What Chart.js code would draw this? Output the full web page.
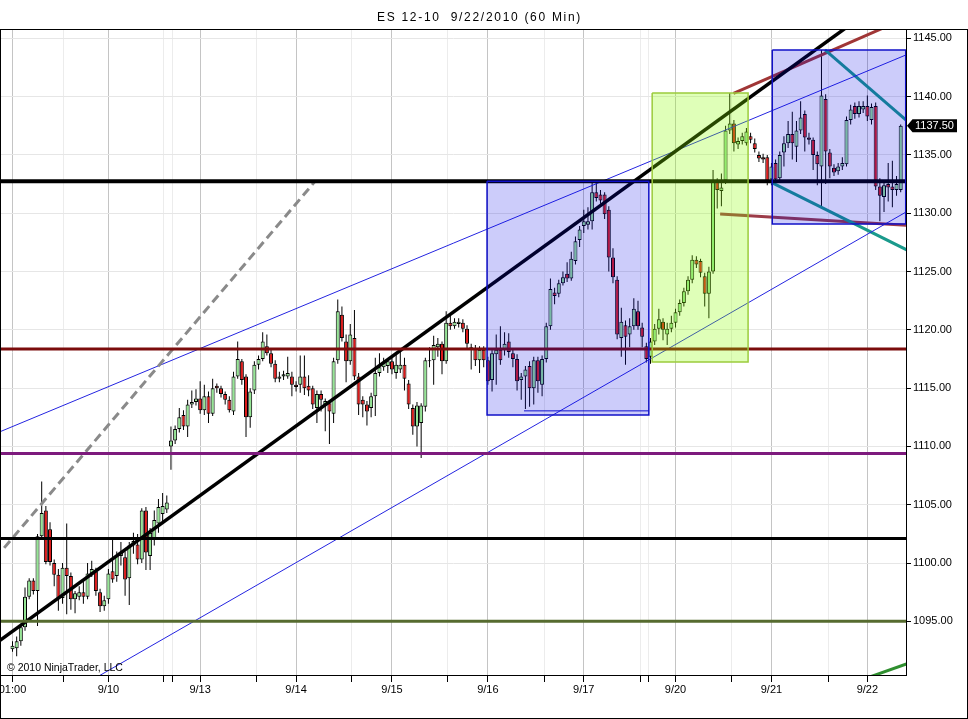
<!DOCTYPE html>
<html>
<head>
<meta charset="utf-8">
<title>ES 12-10 60 Min</title>
<script src="https://cdn.jsdelivr.net/npm/chart.js@4.4.1/dist/chart.umd.min.js"></script>
<style>
  html, body { margin: 0; padding: 0; background: #fff; }
  canvas { display: block; }
</style>
</head>
<body>
<canvas id="esChart" width="968" height="719"></canvas>
<script>
// 60 min bars, 9/9 01:00 -> 9/22, one entry per bar
const opens = [
  1092.6, 1092.7, 1093.3, 1094.5, 1097.1, 1098.5, 1097.6, 1102.3, 1104.5, 1102.9,
  1100.0, 1099.0, 1097.0, 1099.6, 1098.9, 1096.9, 1097.1, 1097.5, 1097.1, 1099.1,
  1099.3, 1097.5, 1096.3, 1096.9, 1099.3, 1098.9, 1100.6, 1100.5, 1098.7, 1101.5,
  1101.6, 1100.3, 1104.5, 1100.6, 1102.1, 1103.4, 1104.2, 1104.6,
  1110.0, 1110.5, 1111.5, 1112.7, 1111.7, 1113.6, 1113.8, 1114.1, 1113.1, 1114.3,
  1112.8, 1115.2, 1115.0, 1114.5, 1114.0, 1113.0, 1116.0, 1117.3, 1116.0, 1112.5,
  1114.8, 1117.0, 1117.5, 1118.6, 1118.0, 1117.1, 1115.8, 1116.0, 1116.0, 1116.0,
  1115.3, 1115.3, 1116.0, 1115.2, 1115.0, 1113.3, 1114.5, 1113.6, 1113.7, 1112.8,
  1117.4, 1121.3, 1119.0, 1117.3, 1119.3, 1116.0, 1114.0, 1113.6, 1113.3, 1114.3,
  1116.3, 1116.8, 1116.9, 1117.3, 1116.3, 1116.6, 1117.0, 1115.4, 1113.3, 1111.7,
  1112.0, 1113.4, 1117.3, 1117.4, 1118.5, 1118.8, 1117.3, 1120.6, 1120.3, 1120.5,
  1120.6, 1120.1, 1118.3, 1118.4, 1117.4, 1118.3, 1117.4, 1115.7, 1117.9, 1118.3,
  1118.3, 1119.0, 1118.0, 1117.5, 1115.7, 1116.0, 1116.9, 1115.0, 1117.4, 1115.3,
  1117.5, 1120.3, 1123.2, 1123.1, 1124.0, 1124.8, 1124.4, 1125.9, 1127.7, 1128.9,
  1129.0, 1129.3, 1131.8, 1131.6, 1131.6, 1130.3, 1126.2, 1124.3, 1119.3, 1120.4,
  1119.6, 1120.3, 1121.6, 1120.2, 1118.6, 1117.7, 1119.0, 1120.1, 1120.7, 1119.6,
  1120.1, 1120.6, 1121.5, 1122.3, 1123.3, 1124.3, 1126.0, 1125.9, 1124.6, 1123.1,
  1125.0, 1132.7, 1131.9, 1132.8, 1137.1, 1137.7, 1135.9, 1136.2, 1136.0, 1136.6,
  1136.0, 1135.0, 1134.8, 1134.8, 1132.9, 1134.3, 1133.0, 1135.2, 1136.0, 1136.8,
  1135.7, 1137.1, 1138.5, 1136.5, 1136.3, 1135.0, 1134.0, 1139.8, 1135.2, 1133.9,
  1133.6, 1134.0, 1134.2, 1138.0, 1139.2, 1138.5, 1138.9, 1139.2, 1138.0, 1139.2,
  1132.3, 1131.4, 1132.5, 1132.3, 1132.0, 1132.0
];
const highs = [
  1093.3, 1093.7, 1094.8, 1097.9, 1098.7, 1098.7, 1102.5, 1107.0, 1104.9, 1103.5,
  1100.3, 1099.5, 1100.0, 1103.4, 1099.2, 1097.6, 1098.0, 1098.6, 1100.0, 1100.2,
  1099.6, 1097.8, 1097.2, 1099.5, 1102.2, 1101.0, 1101.8, 1101.0, 1101.8, 1102.6,
  1102.5, 1104.7, 1104.8, 1103.0, 1104.5, 1105.5, 1106.0, 1105.8,
  1111.7, 1111.8, 1113.3, 1113.1, 1114.0, 1114.8, 1114.9, 1115.6, 1115.3, 1114.7,
  1115.8, 1115.4, 1115.2, 1114.7, 1114.3, 1116.4, 1119.0, 1117.5, 1116.2, 1115.0,
  1117.3, 1117.8, 1119.8, 1119.6, 1118.3, 1117.4, 1116.4, 1116.5, 1117.7, 1116.4,
  1115.6, 1117.8, 1117.8, 1116.1, 1115.2, 1114.8, 1114.8, 1114.1, 1113.9, 1117.6,
  1122.6, 1122.0, 1119.6, 1120.5, 1121.7, 1116.3, 1114.3, 1113.9, 1114.6, 1117.6,
  1118.0, 1117.6, 1117.5, 1117.6, 1118.0, 1118.3, 1117.6, 1115.7, 1113.6, 1113.8,
  1113.7, 1117.6, 1118.5, 1119.5, 1119.3, 1119.0, 1121.6, 1121.3, 1121.0, 1121.0,
  1120.9, 1120.4, 1118.8, 1118.7, 1118.6, 1118.6, 1117.7, 1118.3, 1119.6, 1120.3,
  1119.8, 1119.7, 1118.4, 1117.9, 1116.3, 1116.9, 1117.3, 1117.7, 1117.7, 1117.8,
  1120.6, 1124.4, 1123.6, 1124.3, 1125.0, 1125.8, 1126.7, 1128.0, 1128.9, 1130.3,
  1130.5, 1132.75, 1132.7, 1132.0, 1131.8, 1130.6, 1127.0, 1124.6, 1121.9, 1120.8,
  1121.0, 1122.7, 1122.5, 1120.6, 1118.9, 1119.3, 1120.5, 1121.8, 1121.0, 1120.6,
  1121.2, 1121.8, 1122.6, 1123.6, 1124.6, 1126.4, 1126.3, 1126.1, 1124.9, 1125.4,
  1133.7, 1133.0, 1133.4, 1137.5, 1140.3, 1138.0, 1136.5, 1136.9, 1137.3, 1136.9,
  1136.4, 1135.3, 1135.1, 1135.0, 1134.3, 1134.6, 1135.3, 1136.6, 1137.9, 1138.7,
  1137.9, 1139.6, 1138.8, 1136.9, 1136.5, 1135.3, 1144.0, 1140.2, 1135.5, 1134.2,
  1134.3, 1134.8, 1138.3, 1139.3, 1139.5, 1139.6, 1139.6, 1140.1, 1139.4, 1139.5,
  1133.0, 1132.7, 1134.3, 1134.5, 1133.2, 1137.6
];
const lows = [
  1092.4, 1092.0, 1092.9, 1094.2, 1096.9, 1097.3, 1094.6, 1102.0, 1099.9, 1099.8,
  1098.0, 1095.9, 1096.5, 1095.6, 1096.0, 1095.7, 1096.8, 1096.5, 1096.9, 1098.8,
  1097.2, 1095.8, 1095.9, 1096.5, 1098.3, 1098.4, 1099.8, 1097.2, 1096.4, 1100.8,
  1099.9, 1100.0, 1099.4, 1099.4, 1101.5, 1102.6, 1103.6, 1104.3,
  1108.0, 1110.2, 1111.2, 1111.4, 1110.8, 1113.3, 1113.5, 1112.8, 1112.7, 1112.0,
  1112.6, 1114.6, 1114.2, 1113.6, 1112.9, 1112.7, 1115.8, 1115.3, 1110.8, 1111.6,
  1114.5, 1116.6, 1117.3, 1117.8, 1116.8, 1115.5, 1115.5, 1115.7, 1115.8, 1114.3,
  1114.7, 1114.6, 1114.4, 1114.3, 1113.2, 1112.0, 1113.0, 1111.3, 1110.2, 1112.0,
  1117.1, 1119.0, 1115.5, 1117.0, 1115.7, 1112.7, 1112.5, 1111.8, 1112.5, 1112.6,
  1116.0, 1116.5, 1116.3, 1116.2, 1115.8, 1116.3, 1114.8, 1113.2, 1111.0, 1110.0,
  1109.0, 1113.0, 1116.8, 1115.3, 1117.7, 1116.2, 1117.1, 1120.0, 1120.1, 1120.2,
  1119.8, 1118.3, 1116.6, 1116.9, 1116.3, 1116.8, 1115.3, 1114.7, 1115.3, 1117.0,
  1117.8, 1117.6, 1116.8, 1114.8, 1114.0, 1113.2, 1113.4, 1113.6, 1114.6, 1114.3,
  1117.2, 1120.0, 1122.2, 1122.8, 1123.8, 1124.1, 1124.2, 1125.6, 1127.1, 1128.3,
  1128.6, 1128.6, 1131.0, 1130.8, 1129.5, 1125.0, 1124.0, 1119.2, 1117.7, 1117.0,
  1118.5, 1120.0, 1120.0, 1118.5, 1117.2, 1117.1, 1118.7, 1119.6, 1119.1, 1118.7,
  1119.8, 1120.2, 1121.2, 1122.0, 1123.0, 1124.0, 1125.3, 1124.5, 1122.0, 1121.0,
  1124.8, 1130.4, 1130.6, 1132.5, 1136.8, 1135.3, 1135.5, 1135.9, 1135.8, 1136.0,
  1135.2, 1134.4, 1134.3, 1132.4, 1132.4, 1132.6, 1132.7, 1134.0, 1135.6, 1134.6,
  1134.4, 1136.8, 1135.3, 1135.9, 1133.7, 1132.4, 1130.4, 1132.5, 1133.0, 1133.2,
  1133.3, 1133.7, 1134.0, 1137.6, 1138.1, 1138.2, 1138.6, 1137.9, 1137.6, 1132.0,
  1129.3, 1130.1, 1131.0, 1130.5, 1131.5, 1131.8
];
const closes = [
  1092.9, 1093.3, 1094.5, 1097.1, 1098.5, 1097.6, 1102.3, 1104.3, 1100.1, 1100.1,
  1099.0, 1097.0, 1099.6, 1098.9, 1096.9, 1097.4, 1097.5, 1097.1, 1099.1, 1099.5,
  1097.6, 1096.3, 1096.8, 1099.1, 1098.6, 1100.6, 1100.9, 1098.6, 1101.5, 1101.9,
  1100.3, 1104.5, 1100.9, 1102.6, 1103.7, 1104.8, 1104.9, 1105.2,
  1110.5, 1111.5, 1112.5, 1111.7, 1113.6, 1113.8, 1114.1, 1113.1, 1114.3, 1112.8,
  1115.0, 1115.0, 1114.5, 1114.0, 1113.1, 1116.0, 1117.5, 1115.7, 1112.5, 1114.7,
  1117.0, 1117.5, 1119.0, 1118.0, 1117.1, 1115.8, 1116.0, 1116.2, 1116.3, 1115.3,
  1115.1, 1116.0, 1115.0, 1114.8, 1113.6, 1114.5, 1114.0, 1113.9, 1113.0, 1117.3,
  1121.6, 1119.3, 1117.3, 1119.6, 1116.0, 1113.6, 1113.6, 1113.0, 1114.3, 1116.3,
  1116.8, 1117.2, 1117.3, 1116.6, 1117.0, 1117.0, 1115.8, 1113.6, 1111.7, 1113.5,
  1113.5, 1117.4, 1117.4, 1118.7, 1118.8, 1117.3, 1120.6, 1120.3, 1120.7, 1120.7,
  1120.1, 1118.8, 1118.5, 1117.4, 1118.3, 1117.4, 1115.6, 1118.0, 1118.3, 1117.4,
  1118.8, 1118.1, 1117.5, 1115.6, 1116.0, 1116.6, 1115.0, 1117.4, 1115.6, 1117.5,
  1120.3, 1123.5, 1122.9, 1124.0, 1124.5, 1124.4, 1126.1, 1127.6, 1128.6, 1129.3,
  1129.3, 1131.8, 1131.3, 1131.1, 1129.9, 1126.2, 1124.5, 1119.6, 1120.7, 1119.4,
  1120.3, 1121.8, 1120.3, 1119.4, 1117.5, 1119.0, 1120.1, 1120.9, 1120.0, 1120.1,
  1120.6, 1121.5, 1122.3, 1123.3, 1124.3, 1126.0, 1125.6, 1124.9, 1123.1, 1125.0,
  1132.7, 1132.0, 1132.2, 1137.1, 1137.7, 1136.0, 1136.2, 1136.6, 1137.0, 1136.3,
  1135.5, 1134.7, 1134.6, 1132.7, 1134.0, 1132.9, 1135.0, 1136.0, 1136.8, 1136.0,
  1137.1, 1138.2, 1136.5, 1136.3, 1135.0, 1134.2, 1140.1, 1135.3, 1134.0, 1133.5,
  1134.0, 1134.3, 1138.0, 1138.9, 1138.5, 1139.2, 1139.2, 1138.3, 1139.1, 1132.3,
  1131.5, 1132.4, 1132.2, 1132.0, 1132.5, 1137.5
];

// time axis: bar index of each tick and its label
const tickIdx  = [0, 12.35, 23, 36.33, 38.25, 45, 58.6, 68, 81.4, 91, 104.4, 114, 127.5, 137, 150.5, 152.4, 159, 172.5, 182, 195.6, 205];
const tickText = ['01:00', '', '9/10', '', '', '9/13', '', '9/14', '', '9/15', '', '9/16', '', '9/17', '', '', '9/20', '', '9/21', '', '9/22'];
const priceTicks = [1095, 1100, 1105, 1110, 1115, 1120, 1125, 1130, 1135, 1140, 1145];

// drawn horizontal levels
const levels = [1132.75, 1118.35, 1109.4, 1102.1, 1095.0];

// trend lines: [barStart, priceStart, barEnd, priceEnd]
const trendBlack  = [-3.0, 1093.37, 200.84, 1146.15];
const trendDashed = [-2.0, 1101.3, 72.6, 1132.75];
const chanUpper   = [-3.0, 1111.26, 215, 1143.68];
const chanLower   = [20, 1090.17, 215, 1130.25];
const tealUpper   = [194.84, 1144.0, 215, 1137.77];
const tealLower   = [182.1, 1132.63, 215, 1126.76];
const brownUpper  = [172.9, 1140.28, 215, 1146.85];
const brownLower  = [169.7, 1129.93, 215, 1128.95];
const greenLow    = [205, 1090.16, 215, 1091.42];

// shaded boxes (bar range, price range)
const boxLeft   = [113.8, 153.4, 182.2];
const boxRight  = [152.6, 176.4, 214.2];
const boxTop    = [1132.75, 1140.3, 1144.0];
const boxBottom = [1112.7, 1117.25, 1129.07];

const xMin = -2.758, xMax = 214.27;

const bars = closes.map((c, i) => i);
const upColor = '#95e695';
const downColor = '#dc1a1a';

function seg(s, color, width, dash) {
  return {
    type: 'line',
    data: [{x: s[0], y: s[1]}, {x: s[2], y: s[3]}],
    borderColor: color,
    borderWidth: width,
    borderDash: dash || [],
    pointRadius: 0,
    fill: false,
    tension: 0,
    order: 1
  };
}

function box(k, fillColor, edgeColor) {
  const l = boxLeft[k], r = boxRight[k], t = boxTop[k], b = boxBottom[k];
  return {
    type: 'line',
    data: [{x: l, y: t}, {x: r, y: t}, {x: r, y: b}, {x: l, y: b}, {x: l, y: t}],
    borderColor: edgeColor,
    backgroundColor: fillColor,
    borderWidth: 1.5,
    pointRadius: 0,
    fill: 'shape',
    tension: 0,
    order: 0
  };
}

const levelColors = ['#000000', '#7b0c0c', '#7d1a7d', '#000000', '#566b2f'];
const levelWidths = [4, 3, 3, 3, 3];

const datasets = [];
datasets.push(box(0, 'rgba(0,0,230,0.2)', '#1010c8'));
datasets.push(box(1, 'rgba(140,255,0,0.28)', '#9ccc3c'));
datasets.push(box(2, 'rgba(0,0,230,0.2)', '#1010c8'));
datasets.push(seg([boxLeft[0] + 8.86, boxBottom[0] + 0.35, boxRight[0], boxBottom[0] + 0.35], '#1010c8', 1));

levels.forEach((p, k) => datasets.push(seg([xMin - 1, p, xMax + 1, p], levelColors[k], levelWidths[k])));
datasets.push(seg(trendBlack, '#000000', 3.5));
datasets.push(seg(trendDashed, '#8a8a8a', 3, [9, 5]));
datasets.push(seg(chanUpper, '#2424e0', 1));
datasets.push(seg(chanLower, '#2424e0', 1));
datasets.push(seg(tealUpper, '#1a9a8c', 3));
datasets.push(seg(tealLower, '#1a9a8c', 3));
datasets.push(seg(brownUpper, '#a03636', 3));
datasets.push(seg(brownLower, '#9c3b48', 3));
datasets.push(seg(greenLow, '#2f8f2f', 3));

// candle bodies
datasets.push({
  type: 'bar',
  data: bars.map(i => ({x: i, y: [opens[i], closes[i]]})),
  backgroundColor: bars.map(i => closes[i] >= opens[i] ? upColor : downColor),
  borderColor: '#000',
  borderWidth: 1,
  borderSkipped: false,
  barThickness: 4,
  inflateAmount: 0,
  grouped: false,
  order: 2
});
// wicks
datasets.push({
  type: 'bar',
  data: bars.map(i => ({x: i, y: [lows[i], highs[i]]})),
  backgroundColor: '#000',
  barThickness: 1,
  inflateAmount: 0,
  grouped: false,
  order: 3
});

const frame = {
  id: 'frame',
  afterDraw(chart) {
    const {ctx, chartArea: a, scales: {y}} = chart;
    ctx.save();
    ctx.strokeStyle = '#000';
    ctx.lineWidth = 1;
    ctx.strokeRect(0.5, 29.5, chart.width - 1, chart.height - 30);

    ctx.fillStyle = '#000';
    ctx.font = '12px Arial';
    ctx.textBaseline = 'alphabetic';
    if ('letterSpacing' in ctx) ctx.letterSpacing = '1.7px';
    ctx.fillText('ES 12-10  9/22/2010 (60 Min)', 377, 21);
    if ('letterSpacing' in ctx) ctx.letterSpacing = '0px';

    ctx.font = '10.5px Arial';
    ctx.fillText('\u00a9 2010 NinjaTrader, LLC', 7, 671);

    // last price marker
    const last = closes[closes.length - 1];
    const py = y.getPixelForValue(last);
    ctx.beginPath();
    ctx.moveTo(a.right + 1, py);
    ctx.lineTo(a.right + 6.5, py - 6.5);
    ctx.lineTo(957, py - 6.5);
    ctx.lineTo(957, py + 6.5);
    ctx.lineTo(a.right + 6.5, py + 6.5);
    ctx.closePath();
    ctx.fill();
    ctx.fillStyle = '#fff';
    ctx.font = '11px Arial';
    ctx.textBaseline = 'middle';
    ctx.fillText(last.toFixed(2), a.right + 9, py + 0.5);
    ctx.restore();
  }
};

Chart.defaults.font.family = 'Arial, "Liberation Sans", sans-serif';
Chart.defaults.font.size = 11;
Chart.defaults.color = '#000';

new Chart(document.getElementById('esChart'), {
  type: 'bar',
  data: {datasets: datasets},
  options: {
    responsive: false,
    animation: false,
    events: [],
    layout: {padding: {left: 1, top: 30, right: 0, bottom: 0}},
    plugins: {legend: {display: false}, tooltip: {enabled: false}, title: {display: false}},
    scales: {
      x: {
        type: 'linear',
        position: 'bottom',
        offset: false,
        min: xMin,
        max: xMax,
        afterBuildTicks: s => { s.ticks = tickIdx.map(v => ({value: v})); },
        afterFit: s => { s.height = 44; s.paddingLeft = 0; s.paddingRight = 0; },
        ticks: {
          autoSkip: false,
          maxRotation: 0,
          minRotation: 0,
          padding: 1,
          color: '#000',
          callback: (v, i) => tickText[i]
        },
        grid: {
          offset: false,
          color: c => (tickText[c.index] ? '#c4c4c4' : '#ececec'),
          tickColor: '#000',
          tickLength: 7
        },
        border: {color: '#000', width: 1}
      },
      y: {
        type: 'linear',
        position: 'right',
        min: 1090.4,
        max: 1145.71,
        afterBuildTicks: s => { s.ticks = priceTicks.map(v => ({value: v})); },
        afterFit: s => { s.width = 62; s.paddingTop = 0; s.paddingBottom = 0; },
        ticks: {
          padding: 2,
          color: '#000',
          callback: v => v.toFixed(2)
        },
        grid: {color: '#e6e6e6', tickColor: '#000', tickLength: 5},
        border: {color: '#000', width: 1}
      }
    }
  },
  plugins: [frame]
});
</script>
</body>
</html>
